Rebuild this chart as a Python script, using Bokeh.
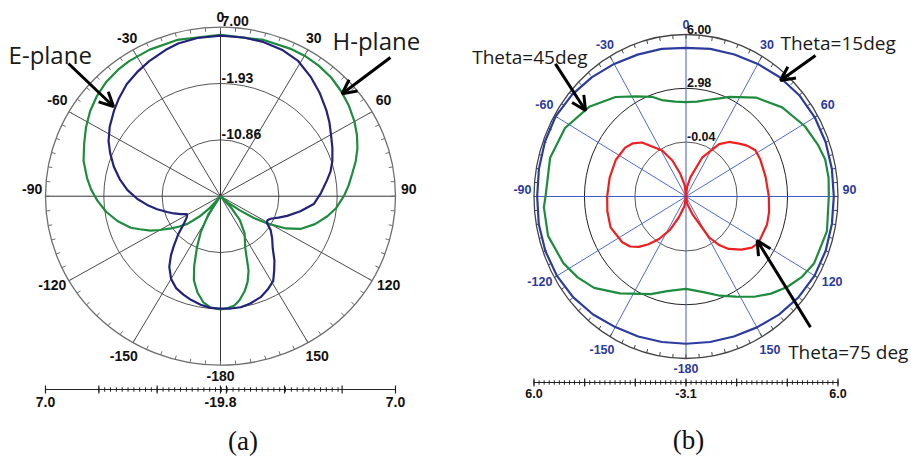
import numpy as np
from bokeh.plotting import figure
from bokeh.layouts import row
from bokeh.models import Arrow, OpenHead, Label, Range1d
from bokeh.core.properties import value
from bokeh.embed import file_html
from bokeh.resources import INLINE

# ---------------- data : panel (a) ----------------
a_rmin, a_rmax = -19.8, 7.0
a_ring_db = [7.00, -1.93, -10.86]
a_ring_text = ["7.00", "-1.93", "-10.86"]
a_scale_text = ["7.0", "-19.8", "7.0"]

e_plane_ang = [-180, -175, -170, -164, -160, -155, -150, -145, -141, -138, -133, -128, -123, -119,
               -115, -111, -107, -102, -97, -92, -86, -80, -74, -68, -63, -57, -50, -45, -39,
               -33, -27, -20, -15, -8, 0, 8, 15, 22, 29, 36, 43, 50, 55, 60, 66, 72, 77, 81,
               88, 95, 101, 107, 111, 115, 118, 121, 125, 130, 136, 141, 145, 149, 154, 159,
               165, 170, 175, 180]
e_plane_db = [-1.98, -2.03, -2.33, -2.81, -3.18, -3.72, -4.66, -6.13, -7.74, -9.08, -10.96,
              -12.67, -13.64, -13.98, -13.1, -12.16, -11.25, -9.88, -8.49, -7.07, -5.49, -4.12,
              -2.81, -1.58, -0.56, 0.43, 1.45, 2.18, 3.03, 3.65, 4.24, 4.86, 5.26, 5.53, 5.66,
              5.61, 5.53, 5.26, 4.72, 3.65, 2.52, 1.37, 0.57, -0.26, -1.04, -1.79, -2.51, -3.26,
              -4.39, -5.46, -7.34, -9.13, -10.29, -11.33, -11.68, -11.49, -10.42, -9.48, -8.28,
              -6.67, -5.46, -4.12, -3.32, -2.65, -2.19, -1.92, -1.92, -1.98]

h_plane_ang = [-180, -175, -171, -167, -163, -160, -156, -152, -147, -143, -139, -135, -131, -127,
               -124, -120, -117, -113, -110, -104, -98, -92, -87, -82, -75, -68, -62, -56, -50,
               -44, -38, -33, -25, -15, 0, 15, 25, 30, 36, 42, 48, 54, 60, 65, 70, 75, 80, 85,
               90, 96, 101, 107, 113, 117, 121, 124, 127, 131, 134, 138, 142, 148, 155, 160,
               163, 166, 170, 173, 177, 180]
h_plane_db = [-1.84, -2.11, -2.81, -4.12, -5.86, -8.01, -10.96, -13.37, -16.48, -19.8, -17.47,
              -15.24, -13.1, -11.76, -10.69, -9.08, -7.77, -6.4, -5.17, -3.53, -2.11, -0.91,
              0.03, 0.84, 1.91, 2.71, 3.52, 4.29, 4.91, 5.39, 5.66, 5.79, 5.85, 5.85, 5.79,
              5.85, 5.93, 5.93, 5.79, 5.53, 5.07, 4.53, 3.89, 3.25, 2.52, 1.64, 0.68, -0.10,
              -0.91, -1.98, -3.13, -4.66, -6.51, -8.54, -11.41, -13.64, -16.0, -18.19, -19.8,
              -17.39, -14.98, -12.83, -10.85, -7.23, -5.6, -4.36, -3.05, -2.35, -1.98, -1.84]

# ---------------- data : panel (b) ----------------
b_rmin, b_rmax = -3.1, 6.0
b_ring_db = [6.00, 2.98, -0.04]
b_ring_text = ["6.00", "2.98", "-0.04"]
b_scale_text = ["6.0", "-3.1", "6.0"]

th15_ang = [-180, -170, -160, -150, -140, -130, -120, -110, -100, -90, -80, -70, -60, -50, -40,
            -30, -20, -10, 0, 10, 20, 30, 40, 50, 60, 70, 80, 90, 100, 110, 120, 130, 140, 150,
            160, 170, 180]
th15_db = [5.17, 5.20, 5.27, 5.37, 5.55, 5.71, 5.82, 5.86, 5.85, 5.81, 5.84, 5.89, 5.91, 5.80,
           5.65, 5.50, 5.38, 5.32, 5.25, 5.32, 5.39, 5.50, 5.64, 5.75, 5.80, 5.80, 5.77, 5.75,
           5.77, 5.80, 5.79, 5.70, 5.56, 5.39, 5.27, 5.20, 5.17]

th45_ang = [-180, -168, -159, -144, -133, -125, -117, -105, -94, -90, -75, -62, -49, -37, -28,
            -20, -15, -7, 0, 7, 14, 20, 25, 37, 49, 61, 70, 76, 83, 90, 103, 116, 123, 130, 137,
            144, 152, 160, 169, 180]
th45_db = [2.09, 2.33, 2.77, 3.63, 4.42, 4.82, 5.14, 5.45, 5.43, 5.31, 5.32, 5.10, 4.58, 3.90,
           3.27, 2.86, 2.51, 2.27, 2.20, 2.27, 2.50, 2.77, 3.08, 3.86, 4.53, 5.04, 5.32, 5.49,
           5.50, 5.45, 5.56, 5.44, 5.18, 4.81, 4.36, 3.86, 3.27, 2.83, 2.37, 2.09]

th75_ang = [-180, -170, -160, -153, -146, -140, -135, -130, -124, -111, -100, -90, -77, -64, -53,
            -47, -41, -29, -22, -15, -7, 0, 7, 14, 24, 34, 40, 47, 52, 58, 65, 77, 90, 100, 108,
            121, 126, 132, 139, 144, 149, 159, 169, 180]
th75_db = [-3.1, -2.55, -1.86, -1.01, -0.22, 0.40, 0.90, 1.27, 1.50, 1.74, 1.68, 1.62, 1.59, 1.58,
           1.46, 1.27, 0.92, -0.15, -0.92, -1.78, -2.46, -3.1, -2.55, -1.98, -0.69, 0.45, 0.90,
           1.26, 1.54, 1.80, 1.81, 1.79, 1.86, 1.95, 2.00, 1.96, 1.78, 1.36, 0.80, 0.27, -0.43,
           -2.06, -2.65, -3.1]

angle_ticks = [0, 30, 60, 90, 120, 150, 180, -150, -120, -90, -60, -30]
angle_text = ["0", "30", "60", "90", "120", "150", "-180", "-150", "-120", "-90", "-60", "-30"]

# ---------------- styling / layout ----------------
label_r = [1.062, 1.066, 1.076, 1.076, 1.11, 1.105, 1.062, 1.105, 1.11, 1.076, 1.076, 1.066]
label_dy = [0, -2, -5, -7, -5, -2, 0, -2, -5, -7, -5, -2]
SANS = "Liberation Sans"


def to_xy(ang, db, lo, hi):
    r = np.clip((np.asarray(db, float) - lo) / (hi - lo), 0, 1)
    t = np.radians(np.asarray(ang, float))
    return r * np.sin(t), r * np.cos(t)


def base_panel(w, h, xr, yr):
    p = figure(width=w, height=h, x_range=Range1d(*xr), y_range=Range1d(*yr),
               output_backend="svg", toolbar_location=None, min_border=0,
               x_axis_location=None, y_axis_location=None)
    p.outline_line_color = None
    p.grid.visible = False
    p.background_fill_color = "white"
    return p


def polar_grid(p, lo, hi, ring_db, ring_text, ring_colors, outer_color, spoke_color,
               axis_color, lab_color, fs, scale_text, bar_y, lab_y, ry_px, majors, minors):
    for d, c in zip(ring_db[1:], ring_colors):
        f = (d - lo) / (hi - lo)
        p.ellipse(x=0, y=0, width=2 * f, height=2 * f, fill_color=None, line_color=c,
                  line_width=1)
    oblique = [a for a in range(0, 360, 30) if a % 90 != 0]
    to = np.radians(oblique)
    p.segment(x0=0, y0=0, x1=np.sin(to), y1=np.cos(to), line_color=spoke_color, line_width=1)
    p.segment(x0=[-1, 0], y0=[0, -1], x1=[1, 0], y1=[0, 1], line_color=axis_color, line_width=1)
    p.ellipse(x=0, y=0, width=2, height=2, fill_color=None, line_color=outer_color,
              line_width=1.3)
    tk = np.radians(np.arange(0, 360, 5))
    L = 4.0 / ry_px
    p.segment(x0=np.sin(tk), y0=np.cos(tk), x1=(1 - L) * np.sin(tk), y1=(1 - L) * np.cos(tk),
              line_color=outer_color, line_width=1)
    ta = np.radians(angle_ticks)
    lr = np.array(label_r)
    p.text(x=lr * np.sin(ta), y=lr * np.cos(ta), text=angle_text, y_offset=label_dy,
           text_align="center", text_baseline="middle", text_font=value(SANS),
           text_font_style="bold", text_font_size=fs, text_color=lab_color)
    fr = [(d - lo) / (hi - lo) for d in ring_db]
    p.text(x=[0] * len(fr), y=fr, text=ring_text, x_offset=1, y_offset=-1,
           text_align="left", text_baseline="bottom", text_font=value(SANS),
           text_font_style="bold", text_font_size=fs, text_color="#111111")
    Lm = 4.0 / ry_px
    Ln = 2.2 / ry_px
    p.segment(x0=[-1], y0=[bar_y], x1=[1], y1=[bar_y], line_color="#222222", line_width=1.2)
    p.segment(x0=majors, y0=bar_y - Lm, x1=majors, y1=bar_y + Lm, line_color="#222222",
              line_width=1.2)
    p.segment(x0=minors, y0=bar_y - Ln, x1=minors, y1=bar_y + Ln, line_color="#222222",
              line_width=1)
    p.text(x=[-1, 0, 1], y=[lab_y] * 3, text=scale_text, text_align="center",
           text_baseline="middle", text_font=value(SANS), text_font_style="bold",
           text_font_size=fs, text_color="#111111")


def note(p, txt, x, y, fs):
    p.add_layout(Label(x=x, y=y, text=txt, text_font="Open Sans", text_font_size=fs,
                       text_color="#1a1a1a", text_align="left", text_baseline="alphabetic"))


def arrow(p, x0, y0, x1, y1):
    p.add_layout(Arrow(end=OpenHead(size=14, line_width=3, line_color="black"),
                       x_start=x0, y_start=y0, x_end=x1, y_end=y1,
                       line_width=3, line_color="black"))


def caption(p, txt, x, y):
    p.add_layout(Label(x=x, y=y, text=txt, text_font="Liberation Serif", text_font_size="27px",
                       text_color="#111111", text_align="center", text_baseline="middle"))


# ---------------- panel (a) ----------------
pa = base_panel(455, 456, (-1.2571, 1.3429), (-1.5402, 1.1580))
a_major = [-1, -0.695, -0.362, 0, 0.034, 0.366, 0.695, 1]
a_minor = list(np.arange(-0.695, 0.70, 1 / 30.0))
polar_grid(pa, a_rmin, a_rmax, a_ring_db, a_ring_text, ["#555555", "#555555"], "#6e6e6e",
           "#4a4a4a", "#333333", "#111111", "14px", a_scale_text, -1.1438, -1.2148, 169.0,
           a_major, a_minor)
hx, hy = to_xy(h_plane_ang, h_plane_db, a_rmin, a_rmax)
pa.line(hx, hy, line_color="#1e8c3e", line_width=2.2)
ex, ey = to_xy(e_plane_ang, e_plane_db, a_rmin, a_rmax)
pa.line(ex, ey, line_color="#23237c", line_width=2.2)
note(pa, "E-plane", -1.211, 0.838, "24px")
note(pa, "H-plane", 0.64, 0.921, "24px")
arrow(pa, -0.869, 0.785, -0.611, 0.531)
arrow(pa, 0.971, 0.821, 0.695, 0.606)
caption(pa, "(a)", 0.129, -1.4456)

# ---------------- panel (b) ----------------
pb = base_panel(456, 456, (-1.5164, 1.4836), (-1.6049, 1.2099))
b_major = [-1, -2 / 3, -1 / 3, 0, 1 / 3, 2 / 3, 1]
b_minor = list(np.arange(-1, 1.0001, 1 / 30.0))
polar_grid(pb, b_rmin, b_rmax, b_ring_db, b_ring_text, ["#222222", "#555555"], "#444444",
           "#4d6bd0", "#3d5cc8", "#2b3a9c", "12.5px", b_scale_text, -1.148, -1.219, 162.0,
           b_major, b_minor)
x15, y15 = to_xy(th15_ang, th15_db, b_rmin, b_rmax)
pb.line(x15, y15, line_color="#2c3c9e", line_width=2.2)
x45, y45 = to_xy(th45_ang, th45_db, b_rmin, b_rmax)
pb.line(x45, y45, line_color="#1e8c3e", line_width=2.2)
x75, y75 = to_xy(th75_ang, th75_db, b_rmin, b_rmax)
pb.line(x75, y75, line_color="#f01e1e", line_width=2.2)
note(pb, "Theta=45deg", -1.4066, 0.86, "19px")
note(pb, "Theta=15deg", 0.6217, 0.946, "19px")
note(pb, "Theta=75 deg", 0.672, -0.961, "19px")
arrow(pb, -0.859, 0.819, -0.661, 0.531)
arrow(pb, 0.852, 0.870, 0.622, 0.716)
arrow(pb, 0.819, -0.807, 0.468, -0.272)
caption(pb, "(b)", 0.016, -1.506)

layout = row(pa, pb)
open("out.html", "w").write(file_html(layout, INLINE))
